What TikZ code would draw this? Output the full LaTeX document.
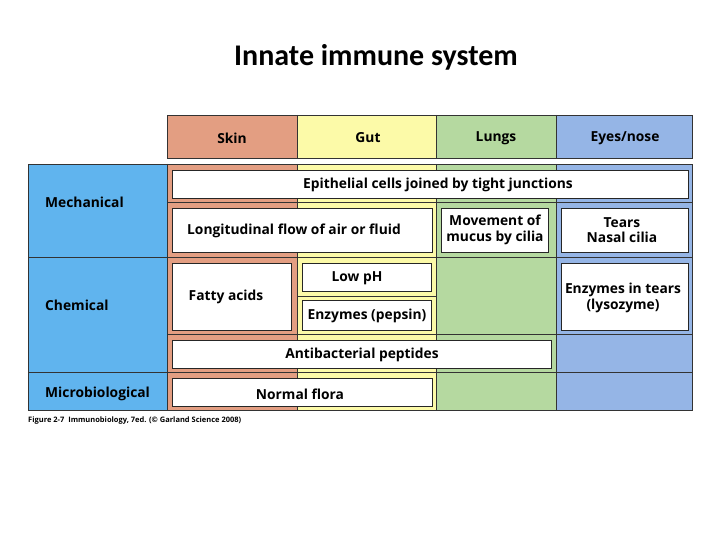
\documentclass[tikz,border=0pt]{standalone}
\usepackage{fontspec}
\setmainfont{Open Sans}
\newfontfamily\titlefont{Carlito}
\definecolor{skin}{HTML}{E39E82}
\definecolor{gut}{HTML}{FCFAA8}
\definecolor{lung}{HTML}{B5D9A0}
\definecolor{eye}{HTML}{95B5E6}
\definecolor{side}{HTML}{60B4EE}
\begin{document}
\begin{tikzpicture}[x=1pt,y=-1pt,
  cell/.style={draw=black!80,line width=0.8pt},
  wbox/.style={draw=black!85,fill=white,line width=0.9pt},
  lab/.style={font=\bfseries\fontsize{13.8}{15.5}\selectfont,align=center,inner sep=0pt}]
\useasboundingbox (0,0) rectangle (720,540);
\node[font=\titlefont\bfseries\fontsize{30}{32}\selectfont] (title) at (376,57) {Innate immune system};
% header
\fill[skin] (167,115) rectangle (297,158);
\fill[gut] (297,115) rectangle (436,158);
\fill[lung] (436,115) rectangle (556,158);
\fill[eye] (556,115) rectangle (692,158);
\draw[cell] (167,115) rectangle (692,158);
\foreach \x in {297,436,556} \draw[cell] (\x,115) -- (\x,158);
\node[lab] (hskin) at (232,138) {Skin};
\node[lab] (hgut) at (368,138) {Gut};
\node[lab] (hlung) at (496,138) {Lungs};
\node[lab] (heye) at (625,138) {Eyes/nose};
% body
\fill[side] (28,164) rectangle (167,410);
\fill[skin] (167,164) rectangle (297,410);
\fill[gut] (297,164) rectangle (436,410);
\fill[lung] (436,164) rectangle (556,410);
\fill[eye] (556,164) rectangle (692,410);
\draw[cell] (28,164) rectangle (692,410);
\foreach \x in {167,297,436,556} \draw[cell,line width=0.4pt] (\x,164) -- (\x,410);
\draw[cell] (167,164) -- (167,410);
\foreach \y in {257,372} \draw[cell] (28,\y) -- (692,\y);
\foreach \y in {202,334} \draw[cell,line width=0.4pt] (167,\y) -- (692,\y);
\draw[cell,line width=0.4pt] (297,296) -- (436,296);
\node[lab,anchor=west] (mech) at (45,202) {Mechanical};
\node[lab,anchor=west] (chem) at (45,305) {Chemical};
\node[lab,anchor=west] (micro) at (45,394) {Microbiological};
% boxes
\draw[wbox] (172,170) rectangle (688,198);
\node[lab] (epi) at (438,185) {Epithelial cells joined by tight junctions};
\draw[wbox] (172,208) rectangle (432,252);
\node[lab] (lon) at (294,231) {Longitudinal flow of air or fluid};
\draw[wbox] (441,208) rectangle (548,252);
\node[lab] (muc) at (495,230) {Movement of\\mucus by cilia};
\draw[wbox] (561,208) rectangle (688,252);
\node[lab] (tear) at (622,230) {Tears\\Nasal cilia};
\draw[wbox] (172,263) rectangle (291,330);
\node[lab] (fat) at (226,297) {Fatty acids};
\draw[wbox] (302,263) rectangle (431,291);
\node[lab] (ph) at (357,278) {Low pH};
\draw[wbox] (302,300) rectangle (431,330);
\node[lab] (pep) at (367,316) {Enzymes (pepsin)};
\draw[wbox] (561,263) rectangle (688,330);
\node[lab] (lys) at (623,298) {Enzymes in tears\\(lysozyme)};
\draw[wbox] (172,340) rectangle (551,368);
\node[lab] (anti) at (362,355) {Antibacterial peptides};
\draw[wbox] (172,378) rectangle (432,406);
\node[lab] (flora) at (300,394) {Normal flora};
\node[anchor=west,font=\bfseries\fontsize{7.5}{8}\selectfont,inner sep=0pt] (cap) at (28,421) {Figure 2-7 \ Immunobiology, 7ed. (© Garland Science 2008)};
\end{tikzpicture}
\end{document}
